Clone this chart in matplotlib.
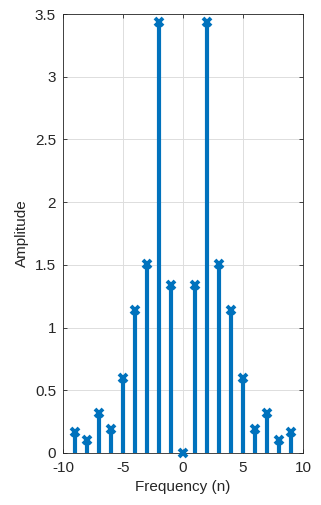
import numpy as np
import matplotlib.pyplot as plt

n = np.arange(-9, 10)
amplitude = [0.17, 0.10, 0.32, 0.19, 0.60, 1.14, 1.51, 3.44, 1.34, 0.0,
             1.34, 3.44, 1.51, 1.14, 0.60, 0.19, 0.32, 0.10, 0.17]

plt.rcParams['font.family'] = ['Liberation Sans', 'DejaVu Sans']
plt.rcParams['axes.unicode_minus'] = False

blue = '#0072BD'
fig = plt.figure(figsize=(3.21, 5.05), dpi=100)
ax = fig.add_axes([63/321, 1 - 453/505, 240/321, 439/505])

ax.vlines(n, 0, amplitude, color=blue, lw=3, zorder=3)
ax.plot(n, amplitude, 'x', color=blue, ms=5.5, mew=2.8, zorder=4, clip_on=False)

ax.set_xlim(-10, 10)
ax.set_ylim(0, 3.5)
ax.set_xticks(np.arange(-10, 11, 5))
ax.set_yticks(np.arange(0, 3.6, 0.5))
ax.set_yticklabels(['0', '0.5', '1', '1.5', '2', '2.5', '3', '3.5'])
ax.grid(True, color='#dddddd', lw=0.7)
ax.set_axisbelow(True)
ax.tick_params(direction='in', top=True, right=True, length=3, labelsize=11,
               colors='#262626', width=0.6)
ax.tick_params(axis='x', pad=6)
ax.tick_params(axis='y', pad=5)
for s in ax.spines.values():
    s.set_color('#262626')
    s.set_linewidth(0.6)
ax.set_xlabel('Frequency (n)', fontsize=11, color='#262626', labelpad=3)
ax.set_ylabel('Amplitude', fontsize=11, color='#262626', labelpad=4)

fig.savefig('out.png', dpi=100)
